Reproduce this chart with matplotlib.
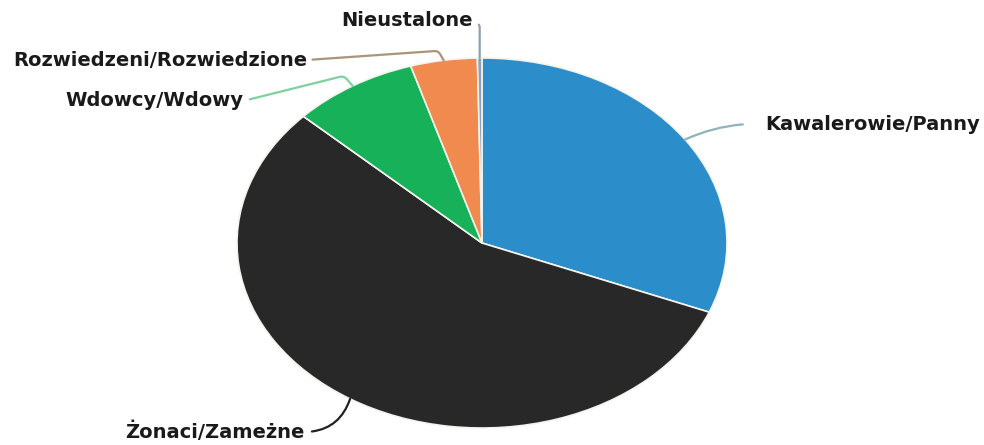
import numpy as np
import matplotlib.pyplot as plt

# shares of marital status (percent)
labels = ['Kawalerowie/Panny', 'Żonaci/Zameżne', 'Wdowcy/Wdowy',
          'Rozwiedzeni/Rozwiedzione', 'Nieustalone']
values = [31.1, 55.9, 8.3, 4.4, 0.3]
colors = ['#2b8dc9', '#282828', '#17b15a', '#f08a4e', '#8aa2bb']
line_colors = ['#8fb3b8', '#222222', '#7fcfa0', '#a8957a', '#8b9fb5']

W, H = 984, 445
fig = plt.figure(figsize=(W / 100, H / 100), dpi=100)

# ellipse centre and radii in image pixels
cx, cy, rx, ry = 482, 243, 245, 185
ax = fig.add_axes([(cx - rx) / W, (H - cy - ry) / H, 2 * rx / W, 2 * ry / H])
wedges, _ = ax.pie(values, colors=colors, startangle=90, counterclock=False,
                   radius=1, wedgeprops=dict(edgecolor='#f4f4ee', linewidth=1.2))
ax.set_xlim(-1, 1)
ax.set_ylim(-1, 1)
ax.set_aspect('auto')
ax.axis('off')

# text position (image px), alignment, connection style, gap
label_pos = [
    (765, 124, 'left', 'arc3,rad=0.12', 14),
    (305, 432, 'right', 'arc3,rad=0.35', 3),
    (243, 101, 'right', 'angle,angleA=14,angleB=-49,rad=4', 3),
    (307, 60, 'right', 'angle,angleA=4,angleB=-60,rad=4', 2),
    (473, 20, 'right', 'angle,angleA=-35,angleB=90,rad=3', 3),
]

for w, lab, lc, (tx, ty, ha, cs, gap) in zip(wedges, labels, line_colors, label_pos):
    mid = np.deg2rad((w.theta1 + w.theta2) / 2)
    xy = (np.cos(mid), np.sin(mid))
    relx = 0 if ha == 'left' else 1
    ax.annotate(lab, xy=xy, xycoords='data',
                xytext=(tx, H - ty), textcoords='figure pixels',
                ha=ha, va='center', fontsize=14, fontweight='bold',
                color='#1a1a1a', annotation_clip=False,
                arrowprops=dict(arrowstyle='-', color=lc, lw=1.6,
                                connectionstyle=cs, relpos=(relx, 0.5),
                                shrinkA=gap, shrinkB=0))

fig.savefig('out.png', dpi=100)
